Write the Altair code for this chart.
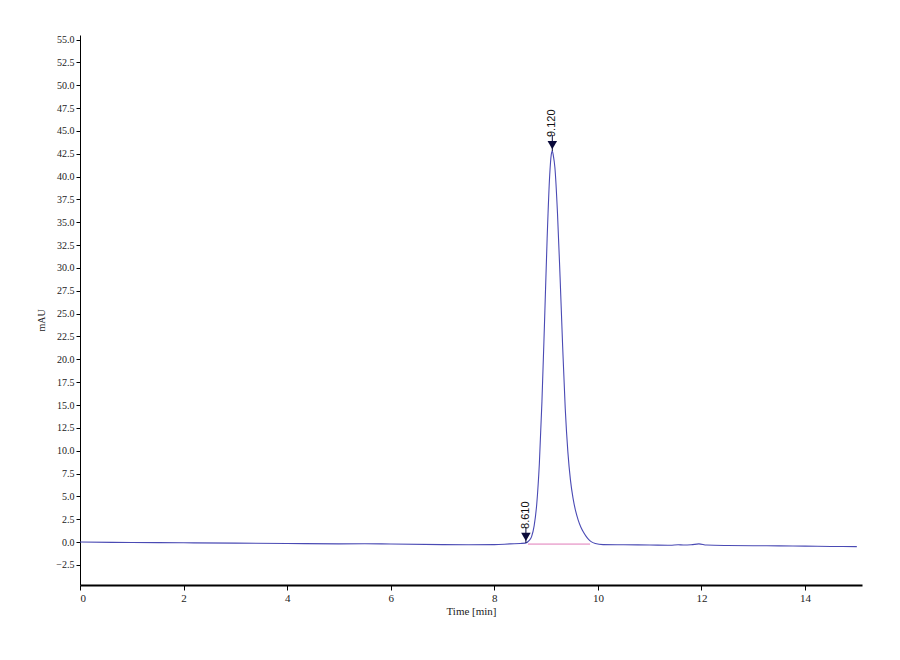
import altair as alt
import pandas as pd

# Chromatogram trace (time in min, absorbance in mAU)
time = [0.0, 1.0, 2.0, 3.0, 4.0, 5.0, 5.5, 6.0, 7.0, 7.5, 8.0, 8.3, 8.5, 8.6, 8.67,
        8.72, 8.77, 8.82, 8.87, 8.92, 8.97, 9.02, 9.07, 9.10, 9.12, 9.14, 9.17,
        9.22, 9.27, 9.32, 9.37, 9.42, 9.47, 9.52, 9.57, 9.62, 9.67, 9.72, 9.77,
        9.82, 9.87, 9.95, 10.1, 10.5, 11.0, 11.4, 11.55, 11.65, 11.8, 11.95,
        12.1, 12.5, 13.0, 13.5, 14.0, 14.5, 15.0]
mau = [0.0, -0.05, -0.08, -0.12, -0.15, -0.2, -0.18, -0.22, -0.28, -0.3, -0.28, -0.2,
       -0.15, -0.12, 0.15, 0.6, 1.8, 4.2, 8.6, 15.4, 24.1, 33.2, 40.2, 42.4, 42.8,
       42.3, 41.0, 36.0, 29.0, 21.4, 14.6, 9.9, 6.8, 4.8, 3.4, 2.4, 1.65, 1.1, 0.65,
       0.3, 0.05, -0.15, -0.28, -0.3, -0.32, -0.35, -0.3, -0.32, -0.3, -0.2, -0.33,
       -0.38, -0.4, -0.42, -0.45, -0.48, -0.5]

# Peak markers
peak_time = [8.61, 9.12]
peak_height = [-0.1, 42.8]
peak_label = ["8.610", "9.120"]

# Integration baseline
base_time = [8.65, 9.85]
base_val = [-0.22, -0.22]

# Axis tick values
x_ticks = [0, 2, 4, 6, 8, 10, 12, 14]
y_ticks = [-2.5, 0.0, 2.5, 5.0, 7.5, 10.0, 12.5, 15.0, 17.5, 20.0, 22.5, 25.0,
           27.5, 30.0, 32.5, 35.0, 37.5, 40.0, 42.5, 45.0, 47.5, 50.0, 52.5, 55.0]

FONT = "Liberation Serif"

trace = pd.DataFrame({"t": time, "v": mau})
peaks = pd.DataFrame({"t": peak_time, "v": peak_height, "label": peak_label})
base = pd.DataFrame({"t": base_time, "v": base_val})

xs = alt.Scale(domain=[0, 15.1], nice=False, zero=False)
ys = alt.Scale(domain=[-4.7, 55.5], nice=False, zero=False)

xaxis = alt.Axis(values=x_ticks, format="d", grid=False, labelOverlap=False,
                 title="Time [min]", titlePadding=2, titleX=391, titleAnchor="middle",
                 domainWidth=2, tickSize=5, labelFontSize=11, titleFontSize=11)
yaxis = alt.Axis(values=y_ticks, format=".1f", grid=False, labelOverlap=False,
                 tickCount=24, title="mAU", titleX=-34, titleY=285,
                 domainWidth=1, tickSize=4, labelFontSize=10, titleFontSize=10,
                 labelPadding=2)

X = alt.X("t:Q", scale=xs, axis=xaxis)
Y = alt.Y("v:Q", scale=ys, axis=yaxis)

base_rule = alt.Chart(base).mark_line(color="#e07ab8", strokeWidth=1).encode(x=X, y=Y)

line = alt.Chart(trace).mark_line(color="#4a4ab4", strokeWidth=1.1,
                                  interpolate="monotone").encode(x=X, y=Y)

stems = alt.Chart(peaks).mark_rule(color="#0a0a3a", strokeWidth=1).encode(
    x=X, y=Y, yOffset=alt.value(-16), y2=alt.Y2("v:Q"),
)

arrows = alt.Chart(peaks).mark_point(shape="triangle-down", filled=True, size=90,
                                     color="#0a0a3a", opacity=1).encode(
    x=X, y=Y, yOffset=alt.value(-6),
)

labels = alt.Chart(peaks).mark_text(angle=270, align="left", baseline="middle",
                                    font="Liberation Sans", fontSize=11,
                                    color="#111", dx=14).encode(
    x=X, y=Y, text="label:N",
)

chart = alt.layer(base_rule, line, stems, arrows, labels).properties(
    width=782, height=550,
    autosize=alt.AutoSizeParams(type="none"),
    padding={"left": 72, "top": 27, "right": 30, "bottom": 60},
    background="white",
).configure_view(stroke=None).configure_axis(
    labelFont=FONT, titleFont=FONT, labelColor="#222", titleColor="#222",
    titleFontWeight="normal", domainColor="black", tickColor="black",
    labelOverlap=False,
)

chart.save("out.html", embed_options={"renderer": "svg", "actions": False})
